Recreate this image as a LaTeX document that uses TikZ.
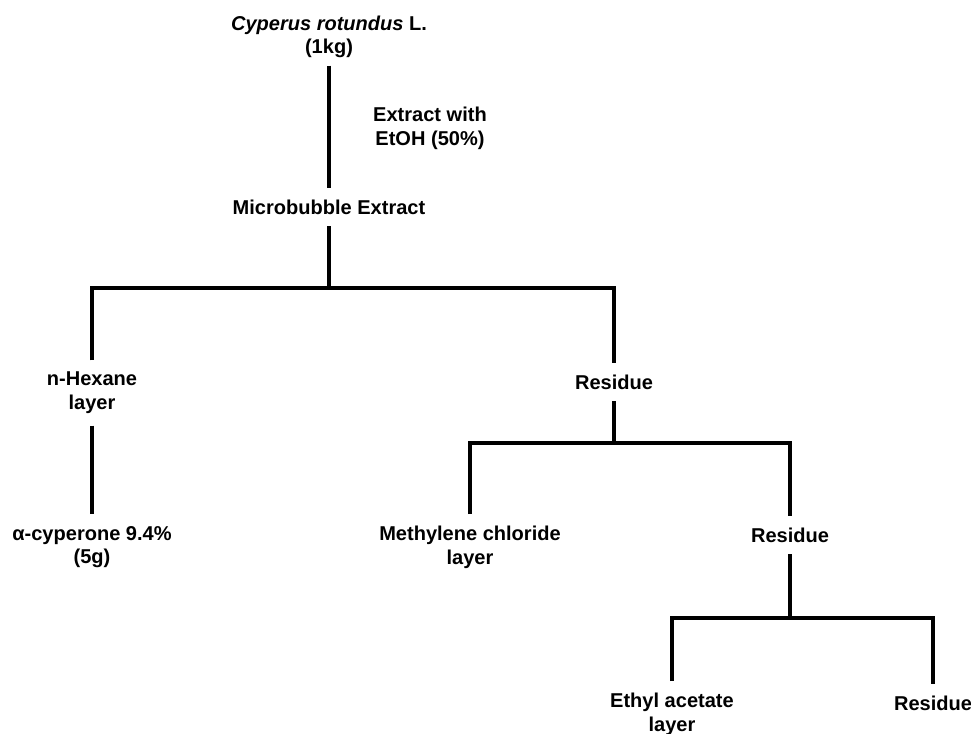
\documentclass[tikz,border=0pt]{standalone}
\usepackage{fontspec}
\setmainfont{Liberation Sans}
\usetikzlibrary{positioning}

\begin{document}
\begin{tikzpicture}[
  x=0.02cm, y=-0.02cm,
  every node/.style={font=\bfseries\fontsize{11.4}{13.5}\selectfont},
  fraction/.style={align=center, inner xsep=2pt, inner ysep=6.5pt},
  stem/.style={line width=2.3pt}
]
\useasboundingbox (0,0) rectangle (971,734);

% Starting material and extraction
\node[fraction, inner ysep=4pt] (root) at (329,37) {\textit{Cyperus rotundus} L.\\(1kg)};
\node[fraction] (solvent) at (430,128) {Extract with\\EtOH (50\%)};
\node[fraction] (mbe) at (329,207) {Microbubble Extract};

% First partition
\coordinate (split1) at (329,288);
\node[fraction] (hex) at (92,393) {n-Hexane\\layer};
\node[fraction] (res1) at (614,382) {Residue};
\node[fraction] (cyp) at (92,547) {α-cyperone 9.4\%\\(5g)};

% Second partition
\coordinate (split2) at (614,443);
\node[fraction] (mcl) at (470,547) {Methylene chloride\\layer};
\node[fraction] (res2) at (790,535) {Residue};

% Third partition
\coordinate (split3) at (790,618);
\node[fraction] (eac) at (672,714) {Ethyl acetate\\layer};
\node[fraction] (res3) at (933,703) {Residue};

% Connecting lines
\draw[stem] (root.south) -- (mbe.north);
\draw[stem] (mbe.south) -- (split1);
\draw[stem] (hex.north) |- (split1) -| (res1.north);
\draw[stem] (hex.south) -- (cyp.north);
\draw[stem] (res1.south) -- (split2);
\draw[stem] (mcl.north) |- (split2) -| (res2.north);
\draw[stem] (res2.south) -- (split3);
\draw[stem] (eac.north) |- (split3) -| (res3.north);

\end{tikzpicture}
\end{document}
